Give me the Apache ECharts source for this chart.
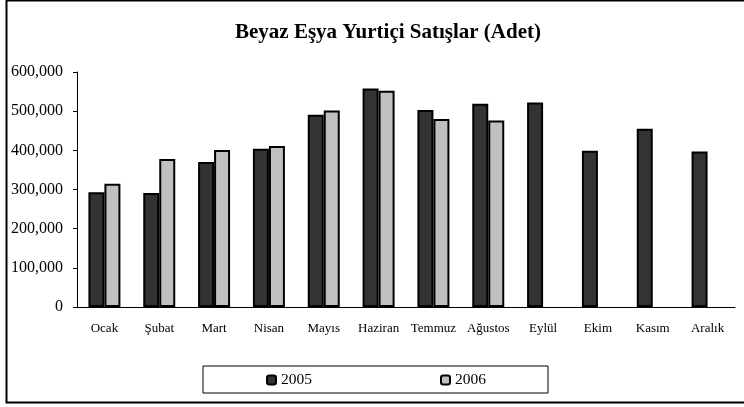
<!DOCTYPE html>
<html>
<head>
<meta charset="utf-8">
<script src="https://cdn.jsdelivr.net/npm/echarts@6/dist/echarts.min.js"></script>
<style>
  html, body { margin: 0; padding: 0; background: #fff; }
  #chart { width: 744px; height: 407px; }
</style>
</head>
<body>
<div id="chart"></div>
<script>
// aylar ve satış adetleri (grafikten okunan tahmini değerler)
var months = ["Ocak", "Şubat", "Mart", "Nisan", "Mayıs", "Haziran", "Temmuz", "Ağustos", "Eylül", "Ekim", "Kasım", "Aralık"];
var sales2005 = [293000, 291000, 370000, 404000, 491000, 558000, 503000, 519000, 522000, 399000, 455000, 397000];
var sales2006 = [315000, 378000, 401000, 411000, 502000, 552000, 480000, 476000, null, null, null, null];
var yTicks = [0, 100000, 200000, 300000, 400000, 500000, 600000];

var serif = "'Liberation Serif', 'DejaVu Serif', serif";

var myChart = echarts.init(document.getElementById("chart"));
var option = {
  backgroundColor: "#fff",
  animation: false,
  title: {
    text: "Beyaz Eşya Yurtiçi Satışlar (Adet)",
    left: 383,
    top: 17,
    textAlign: "center",
    textStyle: { fontFamily: serif, fontSize: 21, fontWeight: "bold", color: "#000" }
  },
  legend: {
    data: ["2005", "2006"],
    left: 203,
    top: 366,
    padding: [6, 62, 5, 63],
    itemWidth: 9,
    itemHeight: 9,
    itemGap: 128,
    borderColor: "#000",
    borderWidth: 1,
    textStyle: { fontFamily: serif, fontSize: 15.5, color: "#000" }
  },
  grid: { left: 77, right: 9, top: 72, bottom: 100 },
  xAxis: {
    type: "category",
    data: months,
    axisLine: { lineStyle: { color: "#000", width: 1 } },
    axisTick: { lineStyle: { color: "#000" }, length: 5 },
    axisLabel: { interval: 0, fontFamily: serif, fontSize: 13, color: "#000", margin: 15 }
  },
  yAxis: {
    type: "value",
    min: yTicks[0],
    max: yTicks[yTicks.length - 1],
    interval: 100000,
    splitLine: { show: false },
    axisLine: { show: true, lineStyle: { color: "#000", width: 1 } },
    axisTick: { show: true, lineStyle: { color: "#000" }, length: 4 },
    axisLabel: {
      fontFamily: serif, fontSize: 16, color: "#000", margin: 14,
      formatter: function (v) { return v.toLocaleString("en-US"); }
    }
  },
  series: [
    {
      name: "2005",
      type: "bar",
      data: sales2005,
      barWidth: 16,
      barGap: 0,
      itemStyle: { color: "#333333", borderColor: "#000", borderWidth: 2 }
    },
    {
      name: "2006",
      type: "bar",
      data: sales2006,
      barWidth: 16,
      itemStyle: { color: "#c0c0c0", borderColor: "#000", borderWidth: 2 }
    }
  ],
  graphic: [
    {
      type: "rect",
      shape: { x: 6.5, y: 0.5, width: 760, height: 402 },
      style: { fill: null, stroke: "#000", lineWidth: 2 },
      silent: true
    }
  ]
};
myChart.setOption(option);
</script>
</body>
</html>
